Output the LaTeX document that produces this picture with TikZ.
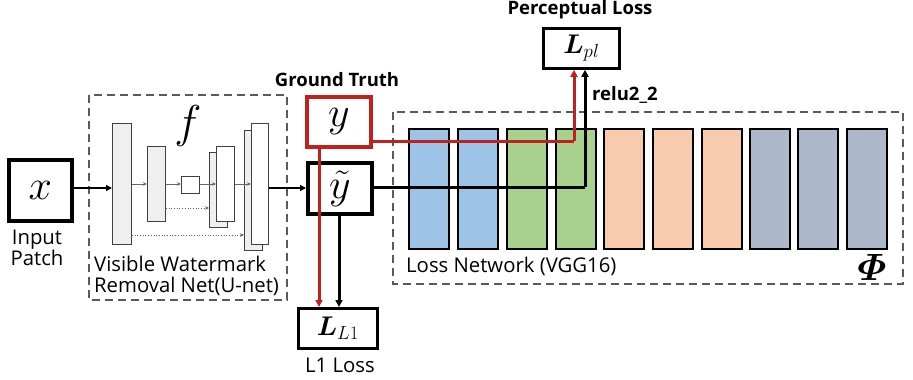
\documentclass[tikz,border=0pt]{standalone}
\usepackage{fix-cm}
\usepackage{amsmath}
\usepackage[no-math]{fontspec}
\setmainfont{Open Sans}
\usetikzlibrary{arrows.meta,calc}
\definecolor{dgray}{HTML}{5A5A5A}
\definecolor{ured}{HTML}{C0201E}
\definecolor{ublue}{HTML}{9DC3E6}
\definecolor{ugreen}{HTML}{A9D18E}
\definecolor{uorange}{HTML}{F8CBAD}
\definecolor{uslate}{HTML}{ADB9CA}
\definecolor{ufill}{HTML}{EFEFEF}
\begin{document}
\begin{tikzpicture}[x=1pt,y=-1pt,
  dbox/.style={draw=dgray,line width=2.8pt,dash pattern=on 8pt off 5pt},
  thickbox/.style={draw=black,line width=3.8pt,fill=white,inner sep=0pt,anchor=north west,font=\fontsize{42}{44}\selectfont},
  lossbox/.style={draw=black,line width=2.8pt,fill=white,inner sep=0pt,anchor=north west,font=\fontsize{27}{29}\selectfont},
  vbar/.style={draw=black,line width=2.3pt,minimum width=40pt,minimum height=120pt,inner sep=0pt,anchor=north west},
  ublk/.style={draw=black!75,line width=0.9pt,fill=ufill,inner sep=0pt,anchor=north west},
  wblk/.style={draw=black!75,line width=0.9pt,fill=white,inner sep=0pt,anchor=north west},
  uarr/.style={draw=black!60,line width=0.7pt,-{Stealth[length=4pt,width=3.5pt]}},
  udot/.style={uarr,dotted},
  marr/.style={draw=black,line width=1.8pt,-{Triangle[length=6pt,width=6pt]}},
  blarr/.style={draw=black,line width=3pt,-{Triangle[length=7pt,width=7pt]}},
  rdarr/.style={draw=ured,line width=3pt,-{Triangle[length=7pt,width=7pt]}},
  lbl/.style={font=\fontsize{20.3}{23}\selectfont,inner sep=0pt},
  blbl/.style={font=\fontsize{18.5}{22}\selectfont\bfseries,inner sep=0pt}
]
\useasboundingbox (0,0) rectangle (913,380);
% input
\node[thickbox,minimum width=63pt,minimum height=61pt] (xin) at (7,158) {$x$};
\node[lbl,align=center] (xlbl) at (37,248) {Input\\[-2pt]Patch};
% U-net frame
\draw[dbox] (89,95) rectangle (287,300);
\node (fsym) at (188,126) {\fontsize{46}{46}\selectfont$f$};
\node[ublk,minimum width=19pt,minimum height=121pt] (b1) at (112,123) {};
\node[ublk,minimum width=18pt,minimum height=75pt] (b2) at (147,146) {};
\node[wblk,minimum width=18pt,minimum height=17pt] (sq) at (181,176) {};
\node[ublk,minimum width=18pt,minimum height=75pt] (b3b) at (209,152) {};
\node[wblk,minimum width=18pt,minimum height=75pt] (b3) at (216,146) {};
\node[ublk,minimum width=18pt,minimum height=120pt] (b4b) at (244,130) {};
\node[wblk,minimum width=17pt,minimum height=121pt] (b4) at (251,123) {};
\coordinate (ua) at (0,184);
\draw[uarr] (b1.east |- ua) -- (b2.west |- ua);
\draw[uarr] (b2.east |- ua) -- (sq.west |- ua);
\draw[uarr] (sq.east |- ua) -- (b3.west |- ua);
\draw[uarr] (b3.east |- ua) -- (b4.west |- ua);
\coordinate (ub) at (0,208);
\coordinate (uc) at (0,235);
\draw[udot] (b2.east |- ub) -- (b3b.west |- ub);
\draw[udot] (b1.east |- uc) -- (b4b.west |- uc);
\node[lbl,align=left,anchor=west] (ulbl) at (94,276) {Visible Watermark\\[-2pt]Removal Net(U-net)};
\coordinate (ma) at (0,188);
\draw[marr] (xin.east |- ma) -- (b1.west |- ma);
% y tilde
\node[thickbox,minimum width=64pt,minimum height=51pt] (ytil) at (306,161) {$\tilde{y}$};
\draw[marr] (b4.east |- ma) -- (ytil.west |- ma);
% loss network
\draw[dbox] (393,112) rectangle (903,284);
\node[vbar,fill=ublue] (v1) at (408,128) {};
\node[vbar,fill=ublue] (v2) at (457,128) {};
\node[vbar,fill=ugreen] (v3) at (506,128) {};
\node[vbar,fill=ugreen] (v4) at (555,128) {};
\node[vbar,fill=uorange] (v5) at (603,128) {};
\node[vbar,fill=uorange] (v6) at (652,128) {};
\node[vbar,fill=uorange] (v7) at (701,128) {};
\node[vbar,fill=uslate] (v8) at (749,128) {};
\node[vbar,fill=uslate] (v9) at (797,128) {};
\node[vbar,fill=uslate] (v10) at (846,128) {};
\node[lbl,anchor=west] (lnlbl) at (406,266) {Loss Network (VGG16)};
\node (phi) at (872,267) {\fontsize{38}{38}\selectfont$\boldsymbol{\varPhi}$};
% ground truth
\node[thickbox,draw=ured,minimum width=64pt,minimum height=50pt] (ygt) at (305,95) {$y$};
\node[blbl] (gtlbl) at (337,80) {Ground Truth};
% perceptual loss
\node[lossbox,minimum width=76pt,minimum height=40pt] (lpl) at (542,27) {$\boldsymbol{L}_{pl}$};
\node[blbl] (pllbl) at (580,10) {Perceptual Loss};
\node[blbl,anchor=west] (relu) at (592,95) {relu2\_2};
% L1 loss
\node[lossbox,minimum width=79pt,minimum height=40pt] (ll1) at (297,307) {$\boldsymbol{L}_{L1}$};
\node[lbl] (l1lbl) at (340,365) {L1 Loss};
% connectors
\coordinate (rt) at (574,141);
\coordinate (bt) at (585,187);
\draw[draw=ured,line width=3pt] (ygt.east |- rt) -- (rt);
\draw[rdarr] (rt) -- (rt |- lpl.south);
\draw[draw=black,line width=3pt] (ytil.east |- bt) -- (bt);
\draw[blarr] (bt) -- (bt |- lpl.south);
\coordinate (rd) at (319,0);
\coordinate (bd) at (339,0);
\draw[rdarr] (rd |- ygt.south) -- (rd |- ll1.north);
\draw[blarr] (bd |- ytil.south) -- (bd |- ll1.north);
\end{tikzpicture}
\end{document}
